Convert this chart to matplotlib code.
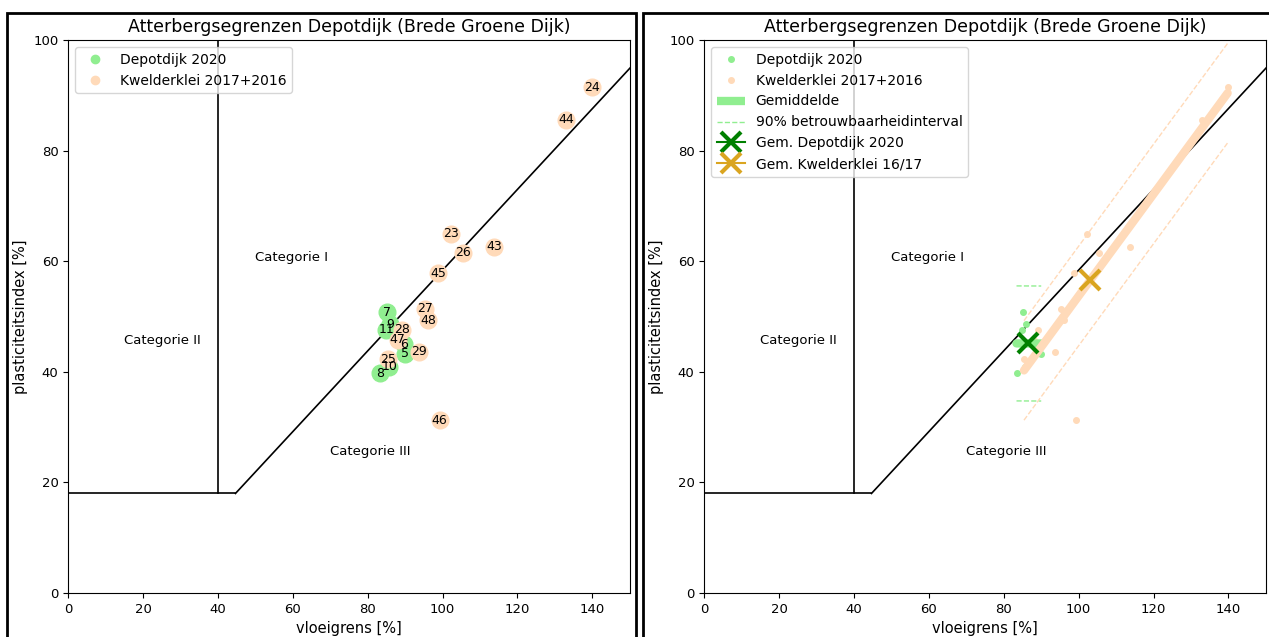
import numpy as np
import matplotlib
matplotlib.use("Agg")
import matplotlib.pyplot as plt
from matplotlib.patches import Rectangle

# Depotdijk 2020 samples
depot_labels = ['5', '6', '7', '8', '9', '10', '11']
depot_ll = [90.0, 89.8, 85.2, 83.4, 86.0, 85.8, 84.9]
depot_pi = [43.3, 45.0, 50.8, 39.7, 48.6, 40.9, 47.6]

# Kwelderklei 2017+2016 samples
klei_labels = ['23', '24', '25', '26', '27', '28', '29', '43', '44', '45', '46', '47', '48']
klei_ll = [102.3, 139.8, 85.4, 105.4, 95.2, 89.2, 93.8, 113.8, 132.9, 98.8, 99.2, 88.0, 96.2]
klei_pi = [65.0, 91.5, 42.3, 61.5, 51.4, 47.6, 43.6, 62.6, 85.6, 57.8, 31.2, 45.8, 49.3]

# half width of the 90% interval
depot_band = 10.4
klei_band = 9.0

# classification lines
hline_x = [0, 44.66]
hline_y = [18, 18]
vline_x = [40, 40]
vline_y = [18, 100]
aline_x = [44.66, 160]
aline_y = [18, 0.73 * (160 - 20)]

cat_text = ['Categorie I', 'Categorie II', 'Categorie III']
cat_x = [50, 15, 70]
cat_y = [60, 45, 25]

c_depot = 'lightgreen'
c_klei = 'peachpuff'
title = 'Atterbergsegrenzen Depotdijk (Brede Groene Dijk)'

fig = plt.figure(figsize=(12.69, 6.37), dpi=100)
ax1 = fig.add_axes([0.0538, 0.0691, 0.4425, 0.868])
ax2 = fig.add_axes([0.555, 0.0691, 0.4425, 0.868])


def basis(ax):
    ax.plot(hline_x, hline_y, color='k', lw=1.2)
    ax.plot(vline_x, vline_y, color='k', lw=1.2)
    ax.plot(aline_x, aline_y, color='k', lw=1.2)
    for t, x, y in zip(cat_text, cat_x, cat_y):
        ax.text(x, y, t, fontsize=9.5)
    ax.set_xlim(0, 150)
    ax.set_ylim(0, 100)
    ax.set_xticks(np.arange(0, 141, 20))
    ax.set_yticks(np.arange(0, 101, 20))
    ax.tick_params(labelsize=9.5)
    ax.set_xlabel('vloeigrens [%]', fontsize=10.5)
    ax.set_ylabel('plasticiteitsindex [%]', fontsize=10.5)
    ax.set_title(title, fontsize=12.5)


# left: labelled samples
basis(ax1)
ax1.plot(depot_ll, depot_pi, 'o', color=c_depot, ms=12, label='Depotdijk 2020')
ax1.plot(klei_ll, klei_pi, 'o', color=c_klei, ms=12, label='Kwelderklei 2017+2016')
for lab, x, y in zip(depot_labels, depot_ll, depot_pi):
    ax1.text(x, y, lab, ha='center', va='center', fontsize=9)
for lab, x, y in zip(klei_labels, klei_ll, klei_pi):
    ax1.text(x, y, lab, ha='center', va='center', fontsize=9)
leg1 = ax1.legend(loc='upper left', fontsize=10)
for h in leg1.legend_handles:
    h.set_markersize(6)

# right: fits and means
basis(ax2)
ax2.plot(depot_ll, depot_pi, 'o', color=c_depot, ms=4, label='Depotdijk 2020')
ax2.plot(klei_ll, klei_pi, 'o', color=c_klei, ms=4, label='Kwelderklei 2017+2016')

for xs, ys, col, band, lab in [(depot_ll, depot_pi, c_depot, depot_band, True),
                               (klei_ll, klei_pi, c_klei, klei_band, False)]:
    xs = np.array(xs)
    ys = np.array(ys)
    a, b = np.polyfit(xs, ys, 1)
    xx = np.array([xs.min(), xs.max()])
    yy = a * xx + b
    ax2.plot(xx, yy, color=col, lw=6, solid_capstyle='round',
             label='Gemiddelde' if lab else None)
    ax2.plot(xx, yy + band, '--', color=col, lw=1,
             label='90% betrouwbaarheidinterval' if lab else None)
    ax2.plot(xx, yy - band, '--', color=col, lw=1)

ax2.plot(np.mean(depot_ll), np.mean(depot_pi), marker='x', color='green', ms=15, mew=3,
         label='Gem. Depotdijk 2020')
ax2.plot(np.mean(klei_ll), np.mean(klei_pi), marker='x', color='goldenrod', ms=15, mew=3,
         label='Gem. Kwelderklei 16/17')
leg2 = ax2.legend(loc='upper left', fontsize=10)
leg2.legend_handles[2].set_solid_capstyle('butt')

# frames around both panels
fig.add_artist(Rectangle((7 / 1269, -0.05), 629 / 1269, 1.05 - 12.7 / 637,
                         transform=fig.transFigure, fill=False, ec='k', lw=2))
fig.add_artist(Rectangle((643 / 1269, -0.05), 640 / 1269, 1.05 - 12.7 / 637,
                         transform=fig.transFigure, fill=False, ec='k', lw=2))

fig.savefig('out.png', dpi=100)
